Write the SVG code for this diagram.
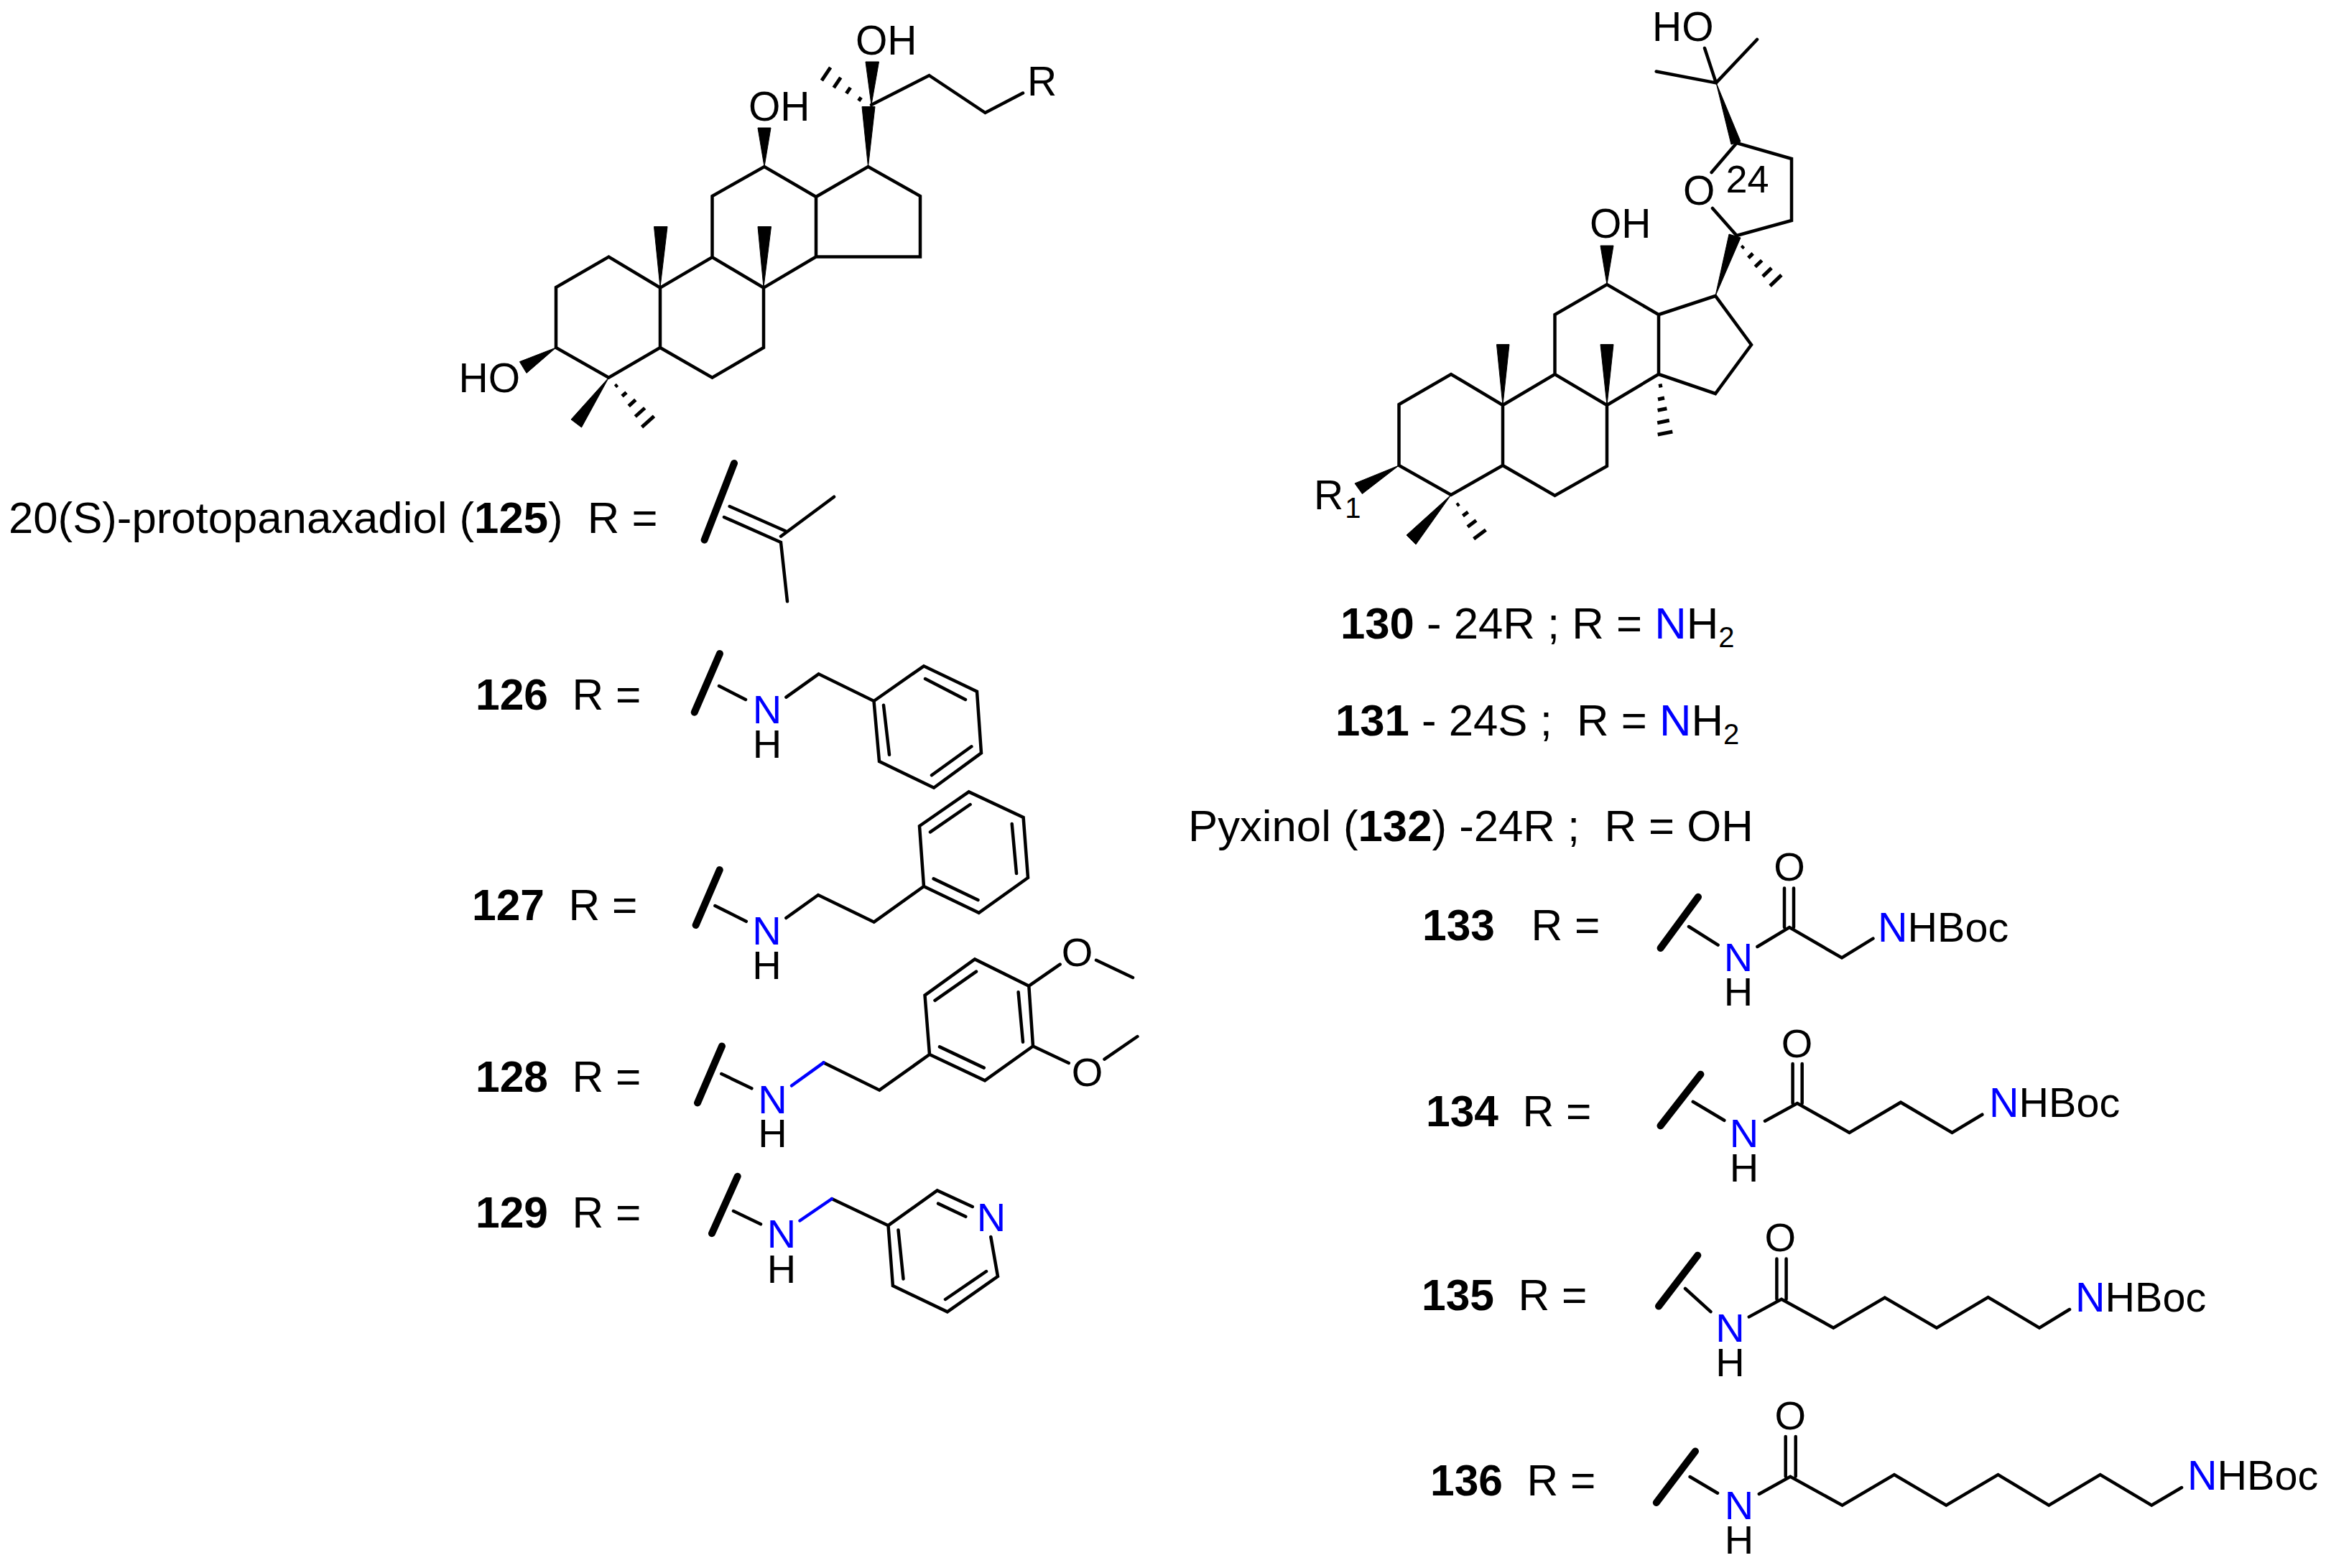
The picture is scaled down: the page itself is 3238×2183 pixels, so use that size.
<svg xmlns="http://www.w3.org/2000/svg" width="3238" height="2183" viewBox="0 0 3238 2183">
<style>
text{font-family:"Liberation Sans",Arial,sans-serif;fill:#000;white-space:pre}
tspan.n{fill:#0000ff}
.a{font-size:56px;text-anchor:middle}
.s{font-size:57px}
.c{font-size:57.500px}
.f{font-size:54px}
.l{font-size:61.700px}
.m{font-size:60.500px}
.n{fill:#0000ff}
.b{font-weight:bold}
.sub{font-size:40px}
path.k{fill:none;stroke:#000;stroke-width:4.500;stroke-linejoin:miter;stroke-linecap:round}
path.u{fill:none;stroke:#0000ff;stroke-width:4.500;stroke-linecap:round}
path.w{fill:#000;stroke:#000;stroke-width:1}
path.h{fill:none;stroke:#000;stroke-width:5}
path.t{fill:none;stroke:#000;stroke-width:10;stroke-linecap:round}
</style>
<rect width="3238" height="2183" fill="#fff"/>
<g id="steroid-125">
<path class="k" d="M774 484V400L847.400 357.500L919 400.600V484L847.400 525.700ZM919 400.600L991.500 358L1063 400.600V484L991.500 525.700L919 484M991.500 358V273L1064 232L1136 274V357.500L1063 400.600M1136 274L1208.500 232L1281 273V357.500H1136M1213 146L1293.500 105L1371.500 157L1424 129.500"/>
<path class="w" d="M1064 232L1055 178H1073ZM919 400L910.500 315.500H929ZM1063 400L1055 315.500H1073.500ZM1208.500 232L1200 148.500H1218ZM1213 146L1205 86H1223.500ZM774 484L723.400 503.600L733 519.400ZM847.400 525.700L795 584L809.500 595Z"/>
<path class="h" d="M856.500 538.300L859.500 535.700M866 551.700L872 546.300M875.200 565.400L884.800 556.600M884.300 580L897.700 568M893.500 594.700L910.500 579.300M1195.300 140.500L1198.700 135.500M1178.200 130.200L1183.800 121.800M1160.700 122.200L1170.300 107.800M1143.900 112.100L1156.100 93.900"/>
<text class="s" x="1191" y="76">OH</text>
<text class="s" x="1042" y="168">OH</text>
<text class="s" x="638.500" y="546">HO</text>
<text class="s" x="1430" y="132.600">R</text>
</g>
<g id="steroid-130">
<path class="k" d="M1947.500 648V563L2020 521L2092 564V648L2020 689ZM2092 564L2164.500 521L2237 564V649L2164.500 690L2092 648M2164.500 521V438L2237 396L2309 438V521L2237 564M2309 438L2388 412L2438 480L2388 548L2309 521M2417.600 328L2494 307V221L2417.600 199L2382.600 240M2384 290L2417.600 328M2388.900 115.400L2446 55M2388.900 115.400L2305.700 99.500M2388.900 115.400L2373 67"/>
<path class="w" d="M2237 396L2228 342H2246ZM2092 564L2083.500 479.600H2101ZM2237 564L2228 479.600H2246ZM2388 412L2407 326L2423 331ZM1947.500 648L1886 673L1896.400 687.500ZM2020 689L1958 745L1971 758ZM2389 115L2410 201L2423 197Z"/>
<path class="h" d="M2028 703.700L2031.200 701.300M2036.400 718.200L2043.600 712.800M2043 733.500L2055 724.500M2051.600 750.300L2068.400 737.700M2309 537.500L2314 536.500M2308 556L2317 554M2307.600 571.300L2320.400 568.700M2307.200 588.700L2323.800 585.300M2307.700 605L2328.300 601M2424.600 345.400L2427.400 342.600M2433.800 359.100L2440.200 352.900M2443.300 371.500L2452.700 362.500M2453.900 384.900L2466.100 373.100M2464.100 398.100L2479.900 382.900"/>
<text class="s" x="2300" y="57">HO</text>
<text class="s" x="2343" y="284.600">O</text>
<text class="f" x="2402.500" y="267.700">24</text>
<text class="s" x="2213" y="331">OH</text>
<text class="s" x="1829" y="709">R<tspan class="sub" dx="2" dy="12">1</tspan></text>
</g>
<g id="label-125">
<text class="l" x="12" y="741.700">20(S)-protopanaxadiol (<tspan class="b">125</tspan>)  R =</text>
<path class="t" d="M1022 645L980.600 751.700"/>
<path class="k" d="M1015.700 705L1093.400 739.300M1008 720L1087 755L1096 837.300M1087 746.700L1161 691.700"/>
</g>
<g id="label-126">
<text class="m" x="662" y="988.300"><tspan class="b">126</tspan>  R =</text>
<path class="t" d="M1002 910L966.700 991.700"/>
<path class="k" d="M1001 955L1038 974M1094.400 970.700L1139.600 938.300L1216.500 976L1286 927.300L1360 962.700L1366 1048.300L1300 1096.700L1224 1060L1216.500 976M1288 945L1344 974M1230 981.700L1238 1050.700M1352.400 1039.300L1297 1079.300"/>
<text class="a"><tspan class="n" x="1068" y="1007.300">N</tspan><tspan x="1068" y="1055">H</tspan></text>
</g>
<g id="label-127">
<text class="m" x="657" y="1281"><tspan class="b">127</tspan>  R =</text>
<path class="t" d="M1001.800 1211L968.600 1288"/>
<path class="k" d="M995.400 1261L1038.800 1282.800M1094.300 1278L1139 1246L1216.700 1283.700L1286 1234L1280 1150L1348.700 1102.400L1424.600 1138L1431 1222L1362.700 1270.800L1286 1234M1295 1158.400L1350.600 1120M1408.700 1147L1415 1216M1361.500 1253L1299.600 1223.400"/>
<text class="a"><tspan class="n" x="1067.500" y="1315.300">N</tspan><tspan x="1067.500" y="1363">H</tspan></text>
</g>
<g id="label-128">
<text class="m" x="662" y="1520"><tspan class="b">128</tspan>  R =</text>
<path class="t" d="M1005 1456.500L971 1535.400"/>
<path class="k" d="M1004.300 1495L1046.400 1515.300M1146.600 1479.400L1224.300 1517.700L1294 1468L1287.500 1385.600L1357 1335.400L1432.300 1372.700L1438 1456.500L1371 1504.300L1294 1468M1301.500 1392.800L1359 1352.600M1417.600 1381.300L1424 1450.700M1369.800 1486.600L1308 1457.400M1432.300 1372.700L1475.600 1342.600M1526 1336.800L1577 1361M1438 1456.500L1487.800 1480M1537.500 1474.600L1583.400 1443"/>
<path class="u" d="M1102 1511.500L1146.600 1479.400"/>
<text class="a"><tspan class="n" x="1075.500" y="1549.800">N</tspan><tspan x="1075.500" y="1596.700">H</tspan></text>
<text class="a" x="1499.500" y="1345">O</text><text class="a" x="1513.600" y="1511.500">O</text>
</g>
<g id="label-129">
<text class="m" x="662" y="1708.600"><tspan class="b">129</tspan>  R =</text>
<path class="t" d="M1026.700 1637.800L991 1717.200"/>
<path class="k" d="M1021 1686L1059 1704.300M1158 1669L1236.500 1706.200L1304.700 1657.400L1353.800 1680M1379.300 1722L1389 1777L1318.800 1826.300L1242.900 1790L1236.500 1706.200M1306 1675.600L1344.300 1693.800M1250.500 1712.400L1257.500 1780.400M1373 1770L1316 1809"/>
<path class="u" d="M1113.400 1699.500L1158 1669"/>
<text class="a"><tspan class="n" x="1088" y="1737.300">N</tspan><tspan x="1088" y="1785.600">H</tspan></text>
<text class="a n" x="1380" y="1713.900">N</text>
</g>
<g id="label-130-132">
<text class="l" x="1866" y="889.300"><tspan class="b">130</tspan> - 24R ; R = <tspan class="n">N</tspan>H<tspan class="sub" dy="12">2</tspan></text>
<text class="l" x="1859" y="1024"><tspan class="b">131</tspan> - 24S ;  R = <tspan class="n">N</tspan>H<tspan class="sub" dy="12">2</tspan></text>
<text class="l" x="1654" y="1170.500">Pyxinol (<tspan class="b">132</tspan>) -24R ;  R = OH</text>
</g>
<g id="label-133">
<text class="m" x="1980" y="1309"><tspan class="b">133</tspan>   R =</text>
<path class="t" d="M2364 1248.700L2311.600 1320"/>
<path class="k" d="M2351 1290L2391.600 1315.600M2446.400 1318L2491 1291L2564 1333.500L2607.500 1306.700M2484 1236.600V1291M2497 1236.600V1291"/>
<text class="a"><tspan class="n" x="2420" y="1351.800">N</tspan><tspan x="2420" y="1400.400">H</tspan></text>
<text class="a" x="2491" y="1226">O</text>
<text class="c" x="2614" y="1311"><tspan class="n">N</tspan>HBoc</text>
</g>
<g id="label-134">
<text class="m" x="1985" y="1568.300"><tspan class="b">134</tspan>  R =</text>
<path class="t" d="M2367.400 1495.700L2311.500 1567.400"/>
<path class="k" d="M2356.700 1533.800L2400.300 1559.800M2457 1560.700L2502 1536L2574.500 1576.900L2646 1534.700L2717.500 1576.900L2759.400 1551.700M2495.600 1481V1536M2508.700 1481V1536"/>
<text class="a"><tspan class="n" x="2428" y="1596.600">N</tspan><tspan x="2428" y="1644.600">H</tspan></text>
<text class="a" x="2501.500" y="1471.900">O</text>
<text class="c" x="2769" y="1555.300"><tspan class="n">N</tspan>HBoc</text>
</g>
<g id="label-135">
<text class="m" x="1979" y="1824"><tspan class="b">135</tspan>  R =</text>
<path class="t" d="M2363.300 1747.700L2309 1818.600"/>
<path class="k" d="M2346 1794L2381.400 1826.200M2434.800 1833.400L2480 1808.700L2552.300 1848.600L2623.800 1806.500L2696 1848.600L2767.600 1806L2839 1848.600L2881 1823M2473.400 1752.600V1808.700M2486.600 1752.600V1808.700"/>
<text class="a"><tspan class="n" x="2408.500" y="1868.300">N</tspan><tspan x="2408.500" y="1915.900">H</tspan></text>
<text class="a" x="2478.400" y="1742.300">O</text>
<text class="c" x="2889" y="1826.200"><tspan class="n">N</tspan>HBoc</text>
</g>
<g id="label-136">
<text class="m" x="1991" y="2081.800"><tspan class="b">136</tspan>  R =</text>
<path class="t" d="M2360 2020.400L2305.800 2092"/>
<path class="k" d="M2352.600 2056L2391 2078.700M2448.800 2080L2492.300 2055.700L2564.600 2095.700L2637 2053L2709.300 2095.700L2781.500 2053L2852.200 2095.700L2923.700 2053L2995.200 2095.700L3037 2071M2485.700 2000V2055.500M2499.700 2000V2055.500"/>
<text class="a"><tspan class="n" x="2421" y="2115.400">N</tspan><tspan x="2421" y="2163">H</tspan></text>
<text class="a" x="2492.300" y="1990.300">O</text>
<text class="c" x="3045" y="2074"><tspan class="n">N</tspan>HBoc</text>
</g>
</svg>
